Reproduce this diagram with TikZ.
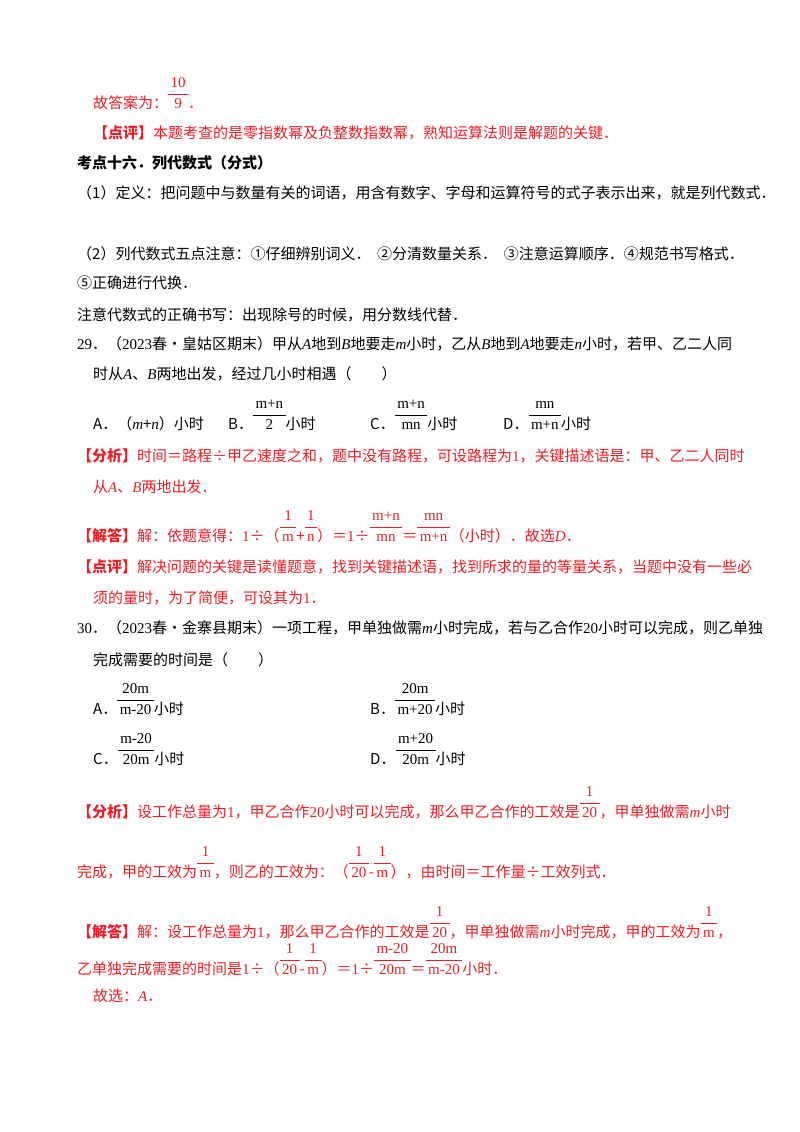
\documentclass[tikz,border=0pt]{standalone}
\usepackage{fontspec}
\setmainfont{Noto Sans CJK SC}
\newfontfamily\ser{Liberation Serif}
\newcommand\iv[1]{{\ser\itshape #1}}
\newcommand\nm[1]{{\ser #1}}
\newcommand\fr[2]{{\ser\renewcommand\arraystretch{1.05}\begin{tabular}[b]{@{\,}c@{\,}}#1\\[1pt]\hline\rule{0pt}{13pt}#2\end{tabular}}}
\definecolor{rd}{RGB}{238,28,36}
\begin{document}
\begin{tikzpicture}[x=1pt,y=-1pt,
  every node/.style={font=\fontsize{15}{18}\selectfont,inner sep=0pt,anchor=base west},
  rt/.style={text=rd}]
\useasboundingbox (0,0) rectangle (800,1132);
\node[rt] (l1) at (93,108) {故答案为：\fr{10}{9}．};
\node[rt] (l2) at (93,138) {\textbf{【点评】}本题考查的是零指数幂及负整数指数幂，熟知运算法则是解题的关键．};
\node (l3) at (77,168) {\textbf{考点十六．列代数式（分式）}};
\node (l4) at (77,198) {（1）定义：把问题中与数量有关的词语，用含有数字、字母和运算符号的式子表示出来，就是列代数式．};
\node (l5) at (77,259) {（2）列代数式五点注意：①仔细辨别词义．\ \ ②分清数量关系．\ \ ③注意运算顺序．④规范书写格式．};
\node (l6) at (77,288) {⑤正确进行代换．};
\node (l7) at (77,320) {注意代数式的正确书写：出现除号的时候，用分数线代替．};
\node (l8) at (77,349) {\nm{29}．（\nm{2023}春•皇姑区期末）甲从\iv{A}地到\iv{B}地要走\iv{m}小时，乙从\iv{B}地到\iv{A}地要走\iv{n}小时，若甲、乙二人同};
\node (l9) at (93,379) {时从\iv{A}、\iv{B}两地出发，经过几小时相遇（\qquad）};
\node (oA) at (93,429) {A．（\iv{m}+\iv{n}）小时};
\node (oB) at (228,429) {B．\fr{m+n}{2}小时};
\node (oC) at (370,429) {C．\fr{m+n}{mn}小时};
\node (oD) at (503,429) {D．\fr{mn}{m+n}小时};
\node[rt] (a1) at (77,461) {\textbf{【分析】}时间＝路程÷甲乙速度之和，题中没有路程，可设路程为\nm{1}，关键描述语是：甲、乙二人同时};
\node[rt] (a2) at (93,492) {从\iv{A}、\iv{B}两地出发．};
\node[rt] (a3) at (77,541) {\textbf{【解答】}解：依题意得：\nm{1}÷（\fr{1}{m}+\fr{1}{n}）＝\nm{1}÷\fr{m+n}{mn}＝\fr{mn}{m+n}（小时）．故选\iv{D}．};
\node[rt] (a4) at (77,572) {\textbf{【点评】}解决问题的关键是读懂题意，找到关键描述语，找到所求的量的等量关系，当题中没有一些必};
\node[rt] (a5) at (93,603) {须的量时，为了简便，可设其为\nm{1}．};
\node (q1) at (77,633) {\nm{30}．（\nm{2023}春•金寨县期末）一项工程，甲单独做需\iv{m}小时完成，若与乙合作\nm{20}小时可以完成，则乙单独};
\node (q2) at (93,665) {完成需要的时间是（\qquad）};
\node (pA) at (93,714) {A．\fr{20m}{m-20}小时};
\node (pB) at (370,714) {B．\fr{20m}{m+20}小时};
\node (pC) at (93,764) {C．\fr{m-20}{20m}小时};
\node (pD) at (370,764) {D．\fr{m+20}{20m}小时};
\node[rt] (b1) at (77,817) {\textbf{【分析】}设工作总量为\nm{1}，甲乙合作\nm{20}小时可以完成，那么甲乙合作的工效是\fr{1}{20}，甲单独做需\iv{m}小时};
\node[rt] (b2) at (77,877) {完成，甲的工效为\fr{1}{m}，则乙的工效为：（\fr{1}{20}-\fr{1}{m}），由时间＝工作量÷工效列式．};
\node[rt] (b3) at (77,937) {\textbf{【解答】}解：设工作总量为\nm{1}，那么甲乙合作的工效是\fr{1}{20}，甲单独做需\iv{m}小时完成，甲的工效为\fr{1}{m}，};
\node[rt] (b4) at (77,974) {乙单独完成需要的时间是\nm{1}÷（\fr{1}{20}-\fr{1}{m}）＝\nm{1}÷\fr{m-20}{20m}＝\fr{20m}{m-20}小时．};
\node[rt] (b5) at (93,1001) {故选：\iv{A}．};
\end{tikzpicture}
\end{document}
